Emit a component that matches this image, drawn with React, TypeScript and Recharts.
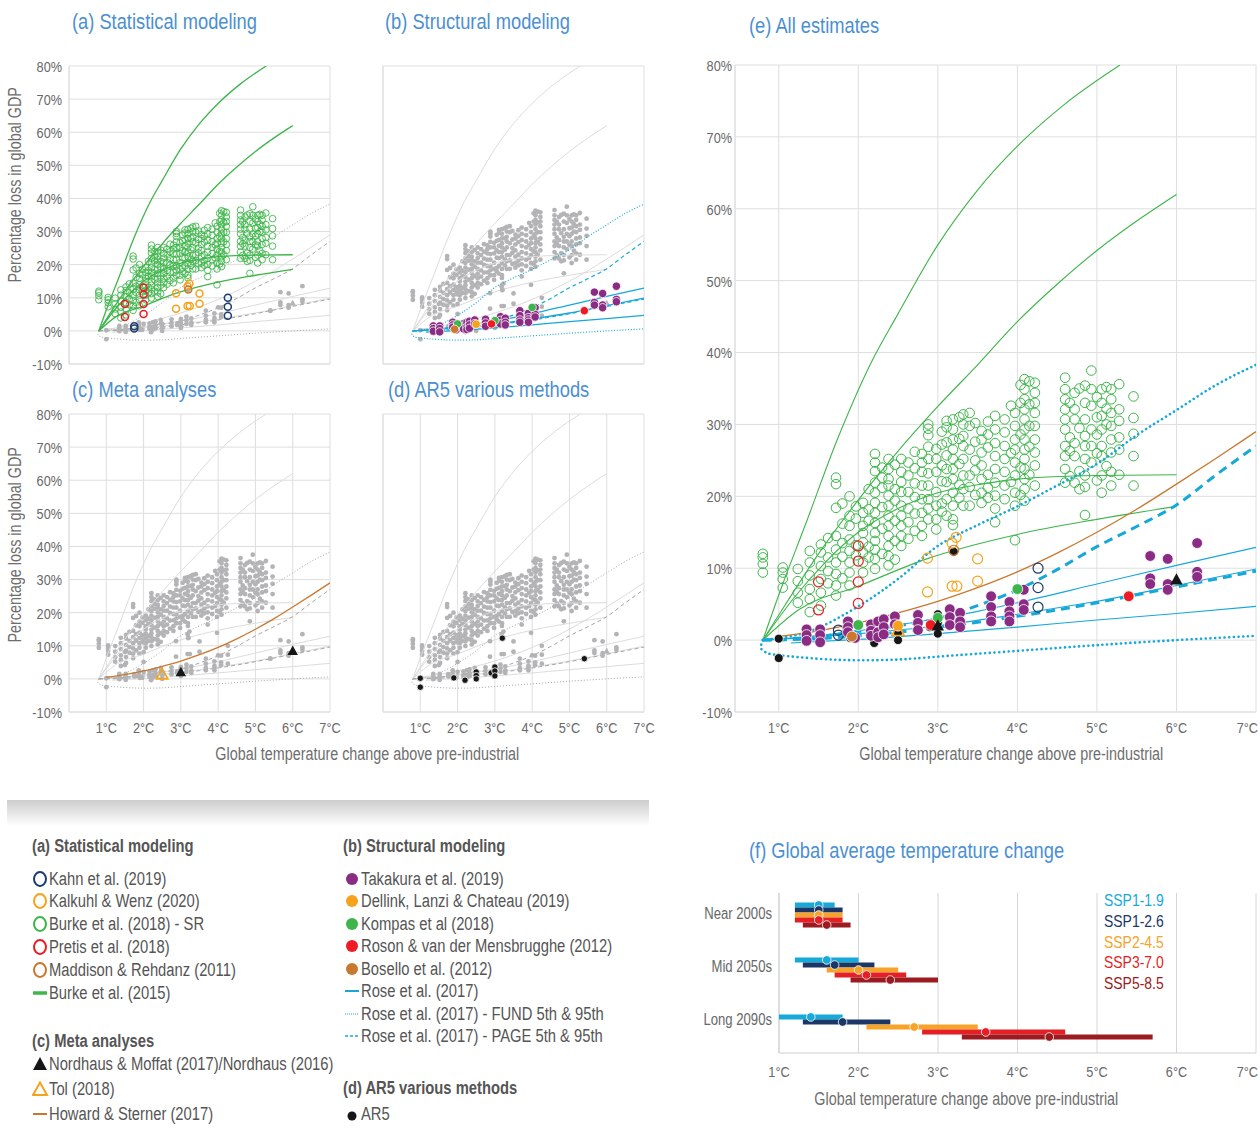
import React from 'react'
import { ScatterChart, Scatter, XAxis, YAxis, CartesianGrid } from 'recharts'

// Arial metrics squeezed horizontally, to stand in for Arial Narrow
const FONT = "'Liberation Sans', Arial, sans-serif"
const NARROW = 0.82

// ---------- data: [temperature °C, % loss in global GDP] ----------

// Burke et al. (2018) - SR, read column by column (temperature, losses)
const burkeSRColumns: [number, number[]][] = [
  [0.8, [12.0, 11.5, 10.6, 9.4]],
  [1.05, [10.1, 9.4, 8.5, 7.3]],
  [1.24, [9.9, 8.2, 6.6, 5.2]],
  [1.39, [12.4, 10.8, 9.0, 7.1, 5.7, 3.9]],
  [1.53, [13.3, 12.2, 10.3, 8.5, 6.6, 4.8]],
  [1.62, [14.2, 11.5, 9.6, 7.9]],
  [1.72, [22.6, 21.7, 18.4, 14.5, 12.6, 10.8, 9.2, 7.6, 6.2]],
  [1.8, [19.0, 16.2, 13.5, 11.6, 8.6]],
  [1.89, [20.0, 17.3, 15.9, 14.0, 12.4, 10.8, 9.4, 7.6]],
  [1.97, [18.6, 16.9, 13.2, 11.8]],
  [2.06, [19.1, 17.7, 15.9, 14.9, 13.6, 12.2, 10.8, 9.4]],
  [2.13, [21.0, 18.2, 16.6, 13.0, 11.5]],
  [2.21, [25.9, 24.7, 23.5, 21.9, 20.5, 19.1, 17.7, 16.3, 14.9, 13.8, 12.6, 11.3, 9.9]],
  [2.3, [24.0, 22.6, 21.2, 18.5, 15.5, 12.0]],
  [2.38, [25.2, 23.8, 22.4, 21.5, 20.1, 18.7, 17.3, 15.9, 14.5, 13.1, 11.7, 10.4]],
  [2.46, [24.4, 21.0, 19.4, 16.6, 13.8, 11.2]],
  [2.54, [25.2, 23.4, 22.0, 20.6, 18.7, 17.3, 15.9, 14.5, 13.1]],
  [2.63, [24.7, 22.9, 20.6, 18.3, 16.4, 14.1]],
  [2.71, [26.2, 23.9, 21.8, 19.9, 17.6, 15.2]],
  [2.8, [25.9, 24.7, 23.4, 21.5, 19.6, 17.7, 15.9, 14.5]],
  [2.88, [30.0, 29.4, 28.5, 26.9, 25.2, 23.2, 21.5, 19.6, 18.3, 16.8]],
  [2.98, [26.6, 25.2, 23.4, 20.6, 18.7, 16.8, 15.4]],
  [3.05, [29.0, 27.2, 24.3, 22.1, 19.0, 17.9]],
  [3.11, [30.5, 29.6, 27.5, 25.7, 23.8, 22.0, 19.6, 17.3]],
  [3.19, [30.7, 29.3, 27.9, 26.5, 25.2, 23.8, 22.4, 20.5, 18.7, 16.8, 16.0]],
  [3.27, [31.0, 28.0, 24.5, 21.6, 19.8]],
  [3.32, [31.4, 30.0, 28.4, 27.0, 25.2, 22.9, 21.0, 18.7]],
  [3.4, [31.6, 29.8, 26.5, 22.9, 21.3, 18.7]],
  [3.47, [30.2, 27.6, 25.0, 23.6, 20.2]],
  [3.55, [29.1, 27.9, 26.1, 24.3, 22.4, 20.5, 19.1]],
  [3.63, [30.4, 28.6, 26.8, 23.0, 21.2, 19.8]],
  [3.72, [31.2, 29.3, 27.4, 25.6, 23.8, 21.9, 20.1, 18.3, 16.4]],
  [3.84, [30.7, 28.9, 27.0, 25.2, 23.4, 21.5, 19.6]],
  [3.92, [32.6, 26.0, 22.0]],
  [3.97, [31.6, 29.8, 27.9, 26.5, 24.7, 22.9, 20.5, 18.7, 13.9]],
  [4.04, [35.5, 33.0, 28.6, 24.0, 20.2]],
  [4.09, [36.3, 34.9, 33.5, 32.1, 30.7, 29.3, 27.9, 26.5, 25.2, 23.8, 22.4, 21.0, 19.4]],
  [4.15, [36.0, 32.8, 29.8, 26.9, 23.0]],
  [4.22, [35.8, 34.4, 33.0, 31.6, 29.8, 27.9, 26.1, 24.3, 21.5]],
  [4.6, [36.5, 34.9, 33.5, 32.1, 30.7, 29.3, 27.0, 25.6, 23.8, 21.9]],
  [4.66, [33.0, 28.2, 26.3, 22.8]],
  [4.72, [34.4, 32.1, 30.7, 27.4, 25.6, 21.9]],
  [4.78, [35.0, 29.5, 23.5, 21.0]],
  [4.85, [35.4, 33.0, 30.7, 28.4, 27.0, 25.2, 22.9, 21.3, 17.4]],
  [4.93, [37.5, 34.9, 32.6, 29.3, 27.0, 24.7]],
  [5.0, [33.8, 31.0, 28.6, 26.0, 22.2]],
  [5.06, [34.9, 33.0, 31.2, 29.3, 27.0, 25.6, 22.9, 20.5]],
  [5.12, [35.2, 32.2, 30.0, 24.2]],
  [5.18, [34.9, 33.5, 31.6, 29.8, 27.9, 26.1, 23.4, 21.5]],
  [5.28, [35.6, 32.1, 30.5, 28.2, 26.5, 23.0]],
  [5.46, [33.9, 30.9, 28.7, 25.6, 21.5]],
]
const burkeSR = burkeSRColumns.flatMap(([t, vals]) => vals.map(v => [t, v]))

const kahn = [[1.75, 1.4], [1.75, 0.7], [4.26, 10.0], [4.26, 7.3], [4.26, 4.6]]
const kalkuhl = [[2.87, 11.4], [2.87, 6.7], [3.18, 13.5], [3.23, 14.3], [3.18, 7.5], [3.24, 7.5], [3.5, 11.3], [3.5, 8.2]]
const pretis = [[1.5, 8.1], [1.5, 4.2], [2.0, 13.1], [2.0, 11.0], [2.0, 8.1], [2.0, 5.1]]
const maddison = [[3.2, 12.5]]

const burke2015Upper = [[0.8, 0], [1.04, 7.5], [1.33, 15.9], [1.74, 28], [2.18, 39], [2.48, 45], [2.99, 54.8], [3.5, 62.6], [4.0, 68.7], [4.6, 74.6], [5.29, 80]]
const burke2015Second = [[0.8, 0], [1.0, 3.5], [1.5, 12], [2.0, 19.5], [2.5, 26.3], [3.0, 32.5], [3.5, 38.3], [4.0, 44.3], [4.5, 49.5], [5.0, 54.2], [5.5, 58.3], [6.0, 62]]
const burke2015Median = [[0.8, 0], [1.2, 6], [1.6, 11], [2.0, 15], [2.5, 18.3], [3.0, 20.5], [3.5, 21.6], [4.0, 22.4], [5.0, 22.9], [6.0, 23]]
const burke2015Lower = [[0.8, 0], [1.26, 4.3], [2.0, 7.5], [2.86, 11.3], [4.0, 14.7], [5.0, 16.8], [6.0, 18.6]]

const takakura = [
  [1.35, 1.5], [1.35, 0.7], [1.35, -0.1], [1.52, 1.5], [1.52, 0.7], [1.52, -0.3],
  [1.87, 2.6], [1.87, 1.8], [1.87, 1.1], [1.96, 0.3], [2.16, 2.2], [2.16, 1.3], [2.16, 0.6],
  [2.25, 2.6], [2.25, 1.1], [2.25, 0.4], [2.32, 2.9], [2.32, 1.8], [2.32, 0.8], [2.46, 3.3], [2.46, 2.2],
  [2.75, 3.5], [2.75, 2.4], [2.75, 1.4], [3.15, 4.3], [3.15, 3.2], [3.15, 2.1], [3.28, 3.8], [3.28, 2.6], [3.28, 1.8],
  [3.67, 6.1], [3.67, 4.6], [3.67, 3.3], [3.67, 2.6], [3.9, 5.3], [3.9, 4.0], [3.9, 3.3], [3.9, 2.6],
  [4.08, 7.0], [4.08, 5.0], [4.08, 4.2], [5.67, 11.7], [5.67, 8.6], [5.67, 7.8],
  [5.89, 11.3], [5.89, 7.8], [5.89, 7.0], [6.26, 13.5], [6.26, 9.5], [6.26, 8.8],
]
const dellink = [[2.5, 2.0]]
const kompas = [[2.0, 2.1], [3.0, 3.1], [4.0, 7.1]]
const roson = [[2.91, 2.1], [5.4, 6.1]]
const bosello = [[1.92, 0.5]]
const roseHigh = [[0.8, 0], [1.5, 0.6], [2, 1.3], [2.5, 2.1], [3, 3.0], [3.5, 4.0], [4, 5.2], [5, 7.8], [6, 10.4], [7, 12.9]]
const roseMid = [[0.8, 0], [2, 0.9], [3, 2.0], [4, 3.6], [5, 5.4], [6, 7.6], [7, 9.9]]
const roseLow = [[1.15, -0.4], [2, 0.1], [3, 0.9], [4, 1.8], [5, 2.8], [6, 3.7], [7, 4.7]]
const fundHigh = [[0.8, 0], [1.35, 1.1], [2, 4.7], [2.5, 8.5], [3, 13.1], [3.5, 16], [4, 18.6], [4.5, 21.5], [5, 24.5], [5.5, 28.5], [6, 32], [6.5, 35.5], [7, 38.3]]
const fundLow = [[0.8, 0], [0.78, -1.2], [0.86, -1.8], [1, -2.1], [1.5, -2.6], [2, -2.8], [2.5, -2.7], [3, -2.3], [4, -1.5], [5, -0.7], [6, 0], [7, 0.6]]
const pageHigh = [[0.8, 0], [1.5, 0.5], [2, 1.2], [2.5, 2.0], [3, 3.0], [3.5, 4.8], [4, 7.0], [4.5, 9.8], [5, 13.0], [5.5, 15.8], [6, 18.8], [6.5, 23], [7, 27]]
const pageLow = [[0.8, 0], [1.5, 0.2], [2, 0.6], [2.5, 1.1], [3, 1.8], [3.5, 2.5], [4, 3.3], [4.5, 4.2], [5, 5.2], [5.5, 6.3], [6, 7.4], [6.5, 8.5], [7, 9.6]]

const nordhaus = [[3.0, 2.0], [6.0, 8.4]]
const tol = [[2.5, 1.3]]
const howard = [[1, 0.5], [1.5, 1.3], [2, 2.4], [2.5, 3.8], [3, 5.4], [3.5, 7.3], [4, 9.5], [4.5, 12.1], [5, 15], [5.5, 18.2], [6, 21.7], [6.5, 25.3], [7, 29]]

const ar5 = [[1, 0.2], [1, -2.5], [1.9, 0.3], [2.2, -0.4], [2.5, 2.1], [2.5, 1.0], [2.5, 0.0], [2.9, 1.8], [3, 3.6], [3, 2.4], [3, 0.9], [3.2, 12.3], [5.4, 6.1]]

const tempTicks = [1, 2, 3, 4, 5, 6, 7]
const lossTicks = [-10, 0, 10, 20, 30, 40, 50, 60, 70, 80]

// (f) warming ranges by period and scenario
const periods = ['Near 2000s', 'Mid 2050s', 'Long 2090s']
const scenarios = ['SSP1-1.9', 'SSP1-2.6', 'SSP2-4.5', 'SSP3-7.0', 'SSP5-8.5']
const sspLow = [[1.2, 1.2, 1.2, 1.2, 1.3], [1.2, 1.3, 1.6, 1.7, 1.9], [1.0, 1.3, 2.1, 2.8, 3.3]]
const sspBest = [[1.5, 1.5, 1.5, 1.5, 1.6], [1.6, 1.7, 2.0, 2.1, 2.4], [1.4, 1.8, 2.7, 3.6, 4.4]]
const sspHigh = [[1.7, 1.8, 1.8, 1.8, 1.9], [2.0, 2.2, 2.5, 2.6, 3.0], [1.8, 2.4, 3.5, 4.6, 5.7]]

// ---------- styles ----------
const GRID = '#dedede'
const TICK = '#686868'
const TITLE = '#4b8fd2'
const GRAY_DOT = '#b4b4b7'
const GRAY_LINE = '#dcdcdc'
const GRAY_DASH = '#a6a6a6'
const C = {
  navy: '#1d3c6e', orange: '#f7a21b', green: '#3db54a', red: '#ed1c24', brown: '#c9782f',
  purple: '#8a2b84', cyan: '#17a8da', black: '#161616',
}
const sspColors = ['#17a9d8', '#1b3767', '#f7a228', '#e41f26', '#9b1b20']

type Kind = 'open' | 'dot' | 'tri' | 'openTri' | 'line'
type Group = 'a' | 'b' | 'c' | 'd'
interface Series { key: string; group: Group; kind: Kind; color: string; data: number[][]; dash?: 'dot' | 'dash'; thin?: boolean; small?: boolean; curve?: any }

const SERIES: Series[] = [
  { key: 'burkeSR', group: 'a', kind: 'open', color: C.green, data: burkeSR, thin: true },
  { key: 'b15u', group: 'a', kind: 'line', color: C.green, data: burke2015Upper },
  { key: 'b15s', group: 'a', kind: 'line', color: C.green, data: burke2015Second },
  { key: 'b15m', group: 'a', kind: 'line', color: C.green, data: burke2015Median },
  { key: 'b15l', group: 'a', kind: 'line', color: C.green, data: burke2015Lower },
  { key: 'roseH', group: 'b', kind: 'line', color: C.cyan, data: roseHigh },
  { key: 'roseM', group: 'b', kind: 'line', color: C.cyan, data: roseMid },
  { key: 'roseL', group: 'b', kind: 'line', color: C.cyan, data: roseLow },
  { key: 'fundH', group: 'b', kind: 'line', color: C.cyan, data: fundHigh, dash: 'dot' },
  { key: 'fundL', group: 'b', kind: 'line', color: C.cyan, data: fundLow, dash: 'dot', curve: 'natural' },
  { key: 'pageH', group: 'b', kind: 'line', color: C.cyan, data: pageHigh, dash: 'dash' },
  { key: 'pageL', group: 'b', kind: 'line', color: C.cyan, data: pageLow, dash: 'dash' },
  { key: 'howard', group: 'c', kind: 'line', color: C.brown, data: howard },
  { key: 'ar5', group: 'd', kind: 'dot', color: C.black, data: ar5, small: true },
  { key: 'kahn', group: 'a', kind: 'open', color: C.navy, data: kahn },
  { key: 'kalkuhl', group: 'a', kind: 'open', color: C.orange, data: kalkuhl },
  { key: 'pretis', group: 'a', kind: 'open', color: C.red, data: pretis },
  { key: 'maddison', group: 'a', kind: 'open', color: C.brown, data: maddison },
  { key: 'takakura', group: 'b', kind: 'dot', color: C.purple, data: takakura },
  { key: 'dellink', group: 'b', kind: 'dot', color: C.orange, data: dellink },
  { key: 'kompas', group: 'b', kind: 'dot', color: C.green, data: kompas },
  { key: 'roson', group: 'b', kind: 'dot', color: C.red, data: roson },
  { key: 'bosello', group: 'b', kind: 'dot', color: C.brown, data: bosello },
  { key: 'nordhaus', group: 'c', kind: 'tri', color: C.black, data: nordhaus },
  { key: 'tol', group: 'c', kind: 'openTri', color: C.orange, data: tol },
]

const pts = (a: number[][]) => a.map(([x, y]) => ({ x, y }))
const triPts = (cx: number, cy: number, s: number) =>
  `${cx},${cy - s} ${cx + s * 0.95},${cy + s * 0.72} ${cx - s * 0.95},${cy + s * 0.72}`

type Mode = 'gray' | 'small' | 'big'

function makeShape(s: Series, mode: Mode) {
  return (p: any) => {
    const { cx, cy } = p
    if (cx == null || cy == null) return <g />
    if (mode === 'gray') {
      if (s.kind === 'tri' || s.kind === 'openTri') return <polygon points={triPts(cx, cy, 3.4)} fill={GRAY_DOT} />
      return <circle cx={cx} cy={cy} r={2.4} fill={GRAY_DOT} />
    }
    const big = mode === 'big'
    if (s.kind === 'open') {
      const r = s.thin ? (big ? 4.8 : 3.3) : (big ? 5 : 3.5)
      const w = s.thin ? (big ? 1 : 0.9) : (big ? 1.2 : 1.5)
      return <circle cx={cx} cy={cy} r={r} fill="none" stroke={s.color} strokeWidth={w} />
    }
    if (s.kind === 'dot') {
      const r = s.small ? (big ? 4.5 : 3.2) : (big ? 5.4 : 4.2)
      return <circle cx={cx} cy={cy} r={r} fill={s.color} stroke="#fff" strokeWidth={0.8} />
    }
    if (s.kind === 'tri') return <polygon points={triPts(cx, cy, big ? 6.5 : 5.5)} fill={s.color} />
    return <polygon points={triPts(cx, cy, big ? 6.5 : 6)} fill="none" stroke={s.color} strokeWidth={1.6} />
  }
}

function lineStyle(s: Series, mode: Mode) {
  if (mode === 'gray') {
    if (s.dash === 'dot') return { stroke: GRAY_DASH, strokeWidth: 1, strokeDasharray: '1 2' }
    if (s.dash === 'dash') return { stroke: GRAY_DASH, strokeWidth: 1, strokeDasharray: '4 3' }
    return { stroke: GRAY_LINE, strokeWidth: 1 }
  }
  if (mode === 'small') {
    if (s.dash === 'dot') return { stroke: s.color, strokeWidth: 1.2, strokeDasharray: '1 1.8' }
    if (s.dash === 'dash') return { stroke: s.color, strokeWidth: 1.2, strokeDasharray: '4 3' }
    return { stroke: s.color, strokeWidth: 1.3 }
  }
  if (s.dash === 'dot') return { stroke: s.color, strokeWidth: 2.6, strokeDasharray: '0.1 4.6', strokeLinecap: 'round' as const }
  if (s.dash === 'dash') return { stroke: s.color, strokeWidth: 3, strokeDasharray: '9 6' }
  return { stroke: s.color, strokeWidth: s.key === 'howard' ? 1.3 : 1.1 }
}

function renderSeries(s: Series, mode: Mode) {
  if (s.kind === 'line') {
    const st = lineStyle(s, mode)
    return (
      <Scatter key={s.key + mode} data={pts(s.data)} fill={st.stroke} line={st}
        lineJointType={s.curve || 'monotoneX'} shape={() => <g />} isAnimationActive={false} />
    )
  }
  return <Scatter key={s.key + mode} data={pts(s.data)} fill={s.color} shape={makeShape(s, mode)} isAnimationActive={false} />
}

// tick label drawn with a horizontal squeeze; the last x label can be pulled inside the frame
function NarrowTick(props: any) {
  const { x, y, payload, side, fmt, size, pullLast } = props
  const isLast = pullLast && payload.value === 7
  const anchor = side === 'left' ? 'end' : isLast ? 'end' : 'middle'
  const dx = isLast ? 2 : 0
  return (
    <g transform={`translate(${x + dx},${y})`}>
      <text transform={`scale(${NARROW},1)`} textAnchor={anchor} dy={side === 'left' ? '0.38em' : '0.71em'}
        fill={TICK} fontSize={size} fontFamily={FONT}>{fmt(payload.value)}</text>
    </g>
  )
}

const degFmt = (v: number) => `${v}°C`
const pctFmt = (v: number) => `${v}%`

const YW = 50, MT = 10, MR = 18, XH = 30

interface Box { left: number; top: number; w: number; h: number }

function LossPanel({ focus, box, xMin, showX, showY, yGap, big }: { focus: Group | 'all'; box: Box; xMin: number; showX: boolean; showY: boolean; yGap: number; big?: boolean }) {
  const items = focus === 'all'
    ? SERIES.map(s => renderSeries(s, 'big'))
    : [...SERIES.filter(s => s.group !== focus).map(s => renderSeries(s, 'gray')),
       ...SERIES.filter(s => s.group === focus).map(s => renderSeries(s, 'small'))]
  return (
    <div style={{ position: 'absolute', left: box.left - YW, top: box.top - MT }}>
      <ScatterChart width={box.w + YW + MR} height={box.h + MT + XH} margin={{ top: MT, right: MR, bottom: 0, left: 0 }}>
        <CartesianGrid stroke={GRID} />
        <XAxis type="number" dataKey="x" domain={[xMin, 7]} ticks={tempTicks} interval={0} allowDataOverflow height={XH}
          axisLine={{ stroke: GRID }} tickLine={false} tickSize={0} tickMargin={10}
          tick={showX ? (p: any) => <NarrowTick {...p} side="bottom" fmt={degFmt} size={15.5} pullLast={big} /> : false} />
        <YAxis type="number" dataKey="y" domain={[-10, 80]} ticks={lossTicks} interval={0} allowDataOverflow width={YW}
          axisLine={{ stroke: GRID }} tickLine={false} tickSize={0} tickMargin={yGap}
          tick={showY ? (p: any) => <NarrowTick {...p} side="left" fmt={pctFmt} size={15.5} /> : false} />
        {items}
      </ScatterChart>
    </div>
  )
}

// (f) row layout: top of each period group and its label position (in plot pixels)
const groupTop = [12, 67, 124]
const labelAt = [20, 73, 126]
const ROW = 5

function WarmingPanel() {
  const box = { left: 779, top: 893, w: 477, h: 160 }
  const FYW = 90
  const bars: React.ReactNode[] = []
  periods.forEach((_, p) => {
    scenarios.forEach((sc, i) => {
      const y = groupTop[p] + i * ROW
      bars.push(
        <Scatter key={`bar-${p}-${i}`} data={[{ x: sspLow[p][i], y }, { x: sspHigh[p][i], y }]} fill={sspColors[i]}
          line={{ stroke: sspColors[i], strokeWidth: 4.8 }} shape={() => <g />} isAnimationActive={false} />
      )
    })
  })
  const medians = scenarios.map((sc, i) => (
    <Scatter key={`med-${i}`} data={periods.map((_, p) => ({ x: sspBest[p][i], y: groupTop[p] + i * ROW }))} fill={sspColors[i]}
      shape={(q: any) => <circle cx={q.cx} cy={q.cy} r={4.3} fill={sspColors[i]} stroke="#fff" strokeWidth={0.8} />}
      isAnimationActive={false} />
  ))
  const periodFmt = (v: number) => periods[labelAt.indexOf(v)] || ''
  return (
    <div style={{ position: 'absolute', left: box.left - FYW, top: box.top - MT }}>
      <ScatterChart width={box.w + FYW + 4} height={box.h + MT + XH} margin={{ top: MT, right: 4, bottom: 0, left: 0 }}>
        <CartesianGrid stroke="#d6d6d6" horizontal={false} />
        <XAxis type="number" dataKey="x" domain={[1, 7]} ticks={tempTicks} interval={0} height={XH}
          axisLine={{ stroke: '#cfcfcf' }} tickLine={false} tickSize={0} tickMargin={13}
          tick={(p: any) => <NarrowTick {...p} side="bottom" fmt={degFmt} size={15.5} pullLast />} />
        <YAxis type="number" dataKey="y" domain={[0, 160]} reversed ticks={labelAt} interval={0} width={FYW}
          axisLine={{ stroke: '#cfcfcf' }} tickLine={false} tickSize={0} tickMargin={7}
          tick={(p: any) => <NarrowTick {...p} side="left" fmt={periodFmt} size={16} />} />
        {bars}
        {medians}
      </ScatterChart>
    </div>
  )
}

function Txt({ x, y, size, color, bold, anchor, children }: any) {
  const lh = Math.round(size * 1.3)
  const center = anchor === 'middle'
  return (
    <div style={{
      position: 'absolute', left: center ? x - 300 : x, top: y - lh / 2, width: center ? 600 : undefined,
      textAlign: center ? 'center' : 'left', fontSize: size, lineHeight: `${lh}px`, color,
      fontWeight: bold ? 700 : 400, whiteSpace: 'nowrap',
    }}>
      <span style={{ display: 'inline-block', transform: `scaleX(${NARROW})`, transformOrigin: center ? 'center' : 'left center' }}>{children}</span>
    </div>
  )
}

function Sym({ type, color, x, y }: { type: string; color: string; x: number; y: number }) {
  let el: React.ReactNode = null
  if (type === 'ring') el = <ellipse cx={8} cy={9} rx={6} ry={7} fill="none" stroke={color} strokeWidth={2} />
  if (type === 'bar') el = <line x1={1} x2={15} y1={9} y2={9} stroke={color} strokeWidth={3.5} />
  if (type === 'line') el = <line x1={1} x2={15} y1={9} y2={9} stroke={color} strokeWidth={2} />
  if (type === 'dotted') el = <line x1={1} x2={15} y1={9} y2={9} stroke={color} strokeWidth={2} strokeDasharray="1 1" />
  if (type === 'dashed') el = <line x1={1} x2={16} y1={9} y2={9} stroke={color} strokeWidth={1.5} strokeDasharray="3 2" />
  if (type === 'dot') el = <circle cx={8} cy={9} r={6} fill={color} />
  if (type === 'small') el = <circle cx={8} cy={11} r={4.5} fill={color} />
  if (type === 'tri') el = <polygon points="8,2 15,15 1,15" fill={color} />
  if (type === 'openTri') el = <polygon points="8,2.5 15,15 1,15" fill="none" stroke={color} strokeWidth={2} />
  return <svg style={{ position: 'absolute', left: x - 8, top: y - 9 }} width={17} height={18}>{el}</svg>
}

const legendLeft = [
  { y: 879, label: 'Kahn et al. (2019)', type: 'ring', color: C.navy },
  { y: 901, label: 'Kalkuhl & Wenz (2020)', type: 'ring', color: C.orange },
  { y: 924, label: 'Burke et al. (2018) - SR', type: 'ring', color: C.green },
  { y: 947, label: 'Pretis et al. (2018)', type: 'ring', color: C.red },
  { y: 970, label: 'Maddison & Rehdanz (2011)', type: 'ring', color: C.brown },
  { y: 993, label: 'Burke et al. (2015)', type: 'bar', color: C.green },
  { y: 1064, label: 'Nordhaus & Moffat (2017)/Nordhaus (2016)', type: 'tri', color: C.black },
  { y: 1089, label: 'Tol (2018)', type: 'openTri', color: C.orange },
  { y: 1114, label: 'Howard & Sterner (2017)', type: 'line', color: C.brown },
]
const legendRight = [
  { y: 879, label: 'Takakura et al. (2019)', type: 'dot', color: C.purple },
  { y: 901, label: 'Dellink, Lanzi & Chateau (2019)', type: 'dot', color: C.orange },
  { y: 924, label: 'Kompas et al (2018)', type: 'dot', color: C.green },
  { y: 946, label: 'Roson & van der Mensbrugghe (2012)', type: 'dot', color: C.red },
  { y: 969, label: 'Bosello et al. (2012)', type: 'dot', color: C.brown },
  { y: 991, label: 'Rose et al. (2017)', type: 'line', color: C.cyan },
  { y: 1014, label: 'Rose et al. (2017) - FUND 5th & 95th', type: 'dotted', color: '#8fd4ef' },
  { y: 1036, label: 'Rose et al. (2017) - PAGE 5th & 95th', type: 'dashed', color: C.cyan },
  { y: 1114, label: 'AR5', type: 'small', color: C.black },
]

export default function App() {
  const LEG = '#555555'
  const AX = '#6e6e6e'
  return (
    <div style={{ position: 'absolute', left: 0, top: 0, width: 1260, height: 1139, overflow: 'hidden', background: '#fff', fontFamily: FONT }}>
      <LossPanel focus="a" box={{ left: 69, top: 66, w: 261, h: 298 }} xMin={0} showX={false} showY yGap={7} />
      <LossPanel focus="b" box={{ left: 383, top: 66, w: 261, h: 298 }} xMin={0} showX={false} showY={false} yGap={7} />
      <LossPanel focus="c" box={{ left: 69, top: 414, w: 261, h: 298 }} xMin={0} showX showY yGap={7} />
      <LossPanel focus="d" box={{ left: 383, top: 414, w: 261, h: 298 }} xMin={0} showX showY={false} yGap={7} />
      <LossPanel focus="all" box={{ left: 735, top: 65, w: 521, h: 647 }} xMin={0.45} showX showY yGap={3} big />
      <WarmingPanel />

      <Txt x={72} y={21} size={22.3} color={TITLE}>(a) Statistical modeling</Txt>
      <Txt x={385} y={21} size={22.3} color={TITLE}>(b) Structural modeling</Txt>
      <Txt x={72} y={389} size={22.3} color={TITLE}>(c) Meta analyses</Txt>
      <Txt x={388} y={389} size={22.3} color={TITLE}>(d) AR5 various methods</Txt>
      <Txt x={749} y={25} size={22.3} color={TITLE}>(e) All estimates</Txt>
      <Txt x={749} y={850} size={22.3} color={TITLE}>(f) Global average temperature change</Txt>

      {[185, 545].map(cy => (
        <div key={cy} style={{ position: 'absolute', left: 15 - 150, top: cy - 11, width: 300, lineHeight: '22px', textAlign: 'center', fontSize: 17.5, color: AX, transform: 'rotate(-90deg)' }}>
          <span style={{ display: 'inline-block', transform: `scaleX(${NARROW})` }}>Percentage loss in global GDP</span>
        </div>
      ))}
      <Txt x={367} y={754} size={17.5} color={AX} anchor="middle">Global temperature change above pre-industrial</Txt>
      <Txt x={1011} y={754} size={17.5} color={AX} anchor="middle">Global temperature change above pre-industrial</Txt>
      <Txt x={966} y={1099} size={17.5} color={AX} anchor="middle">Global temperature change above pre-industrial</Txt>

      {scenarios.map((s, i) => (
        <Txt key={s} x={1104} y={901 + i * 20.8} size={17} color={sspColors[i]}>{s}</Txt>
      ))}

      <div style={{ position: 'absolute', left: 7, top: 800, width: 642, height: 26, background: 'linear-gradient(#cdcdcd, #ffffff)' }} />

      <Txt x={32} y={846} size={18} color={LEG} bold>(a) Statistical modeling</Txt>
      <Txt x={32} y={1041} size={18} color={LEG} bold>(c) Meta analyses</Txt>
      <Txt x={343} y={846} size={18} color={LEG} bold>(b) Structural modeling</Txt>
      <Txt x={343} y={1088} size={18} color={LEG} bold>(d) AR5 various methods</Txt>
      {legendLeft.map(it => (
        <React.Fragment key={it.label}>
          <Sym type={it.type} color={it.color} x={40} y={it.y} />
          <Txt x={49} y={it.y} size={18} color={LEG}>{it.label}</Txt>
        </React.Fragment>
      ))}
      {legendRight.map(it => (
        <React.Fragment key={it.label}>
          <Sym type={it.type} color={it.color} x={352} y={it.y} />
          <Txt x={361} y={it.y} size={18} color={LEG}>{it.label}</Txt>
        </React.Fragment>
      ))}
    </div>
  )
}
